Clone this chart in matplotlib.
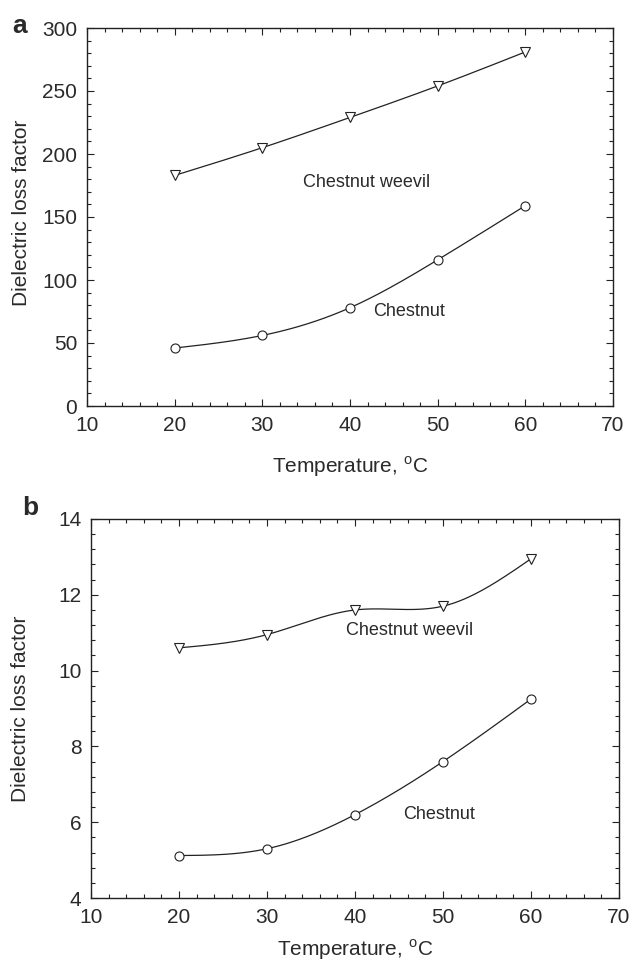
import numpy as np
import matplotlib
matplotlib.use("Agg")
import matplotlib.pyplot as plt
from matplotlib.ticker import MultipleLocator

plt.rcParams['font.family'] = ['Liberation Sans', 'DejaVu Sans']

temperature = [20, 30, 40, 50, 60]
a_weevil = [183, 205, 229, 254, 281]
a_chestnut = [46, 56, 78, 116, 159]
b_weevil = [10.6, 10.95, 11.6, 11.7, 12.95]
b_chestnut = [5.12, 5.3, 6.2, 7.6, 9.25]


def natural_spline(x, y, n=200):
    x = np.asarray(x, float); y = np.asarray(y, float)
    k = len(x); h = np.diff(x)
    A = np.zeros((k, k)); r = np.zeros(k)
    A[0, 0] = A[-1, -1] = 1
    for i in range(1, k - 1):
        A[i, i - 1] = h[i - 1]; A[i, i] = 2 * (h[i - 1] + h[i]); A[i, i + 1] = h[i]
        r[i] = 3 * ((y[i + 1] - y[i]) / h[i] - (y[i] - y[i - 1]) / h[i - 1])
    c = np.linalg.solve(A, r)
    b = (y[1:] - y[:-1]) / h - h * (2 * c[:-1] + c[1:]) / 3
    d = (c[1:] - c[:-1]) / (3 * h)
    xs = np.linspace(x[0], x[-1], n)
    idx = np.clip(np.searchsorted(x, xs, side='right') - 1, 0, k - 2)
    dx = xs - x[idx]
    ys = y[idx] + b[idx] * dx + c[idx] * dx ** 2 + d[idx] * dx ** 3
    return xs, ys


fig = plt.figure(figsize=(6.31, 9.69), dpi=100)
W, H = 631, 969
ax_a = fig.add_axes([87 / W, 1 - 406 / H, (613 - 87) / W, (406 - 28) / H])
ax_b = fig.add_axes([91 / W, 1 - 898 / H, (619 - 91) / W, (898 - 519) / H])

col = '#222222'
tcol = '#2a2a2a'
for ax, w, c, ylim, ymaj, ymin, lw_pos, lc_pos, ylc, xlc in [
    (ax_a, a_weevil, a_chestnut, (0, 300), 50, 10, (34.6, 177), (42.6, 75), (-0.125, 0.51), -0.161),
    (ax_b, b_weevil, b_chestnut, (4, 14), 2, 0.4, (39.0, 11.07), (45.5, 6.19), (-0.133, 0.5), -0.137),
]:
    for series, mk in [(w, 'v'), (c, 'o')]:
        xs, ys = natural_spline(temperature, series)
        ax.plot(xs, ys, color=col, lw=0.9)
        ax.plot(temperature, series, linestyle='none', marker=mk, ms=6.5,
                mfc='white', mec=col, mew=0.8)
    ax.set_xlim(10, 70)
    ax.set_ylim(*ylim)
    ax.xaxis.set_major_locator(MultipleLocator(10))
    ax.xaxis.set_minor_locator(MultipleLocator(2))
    ax.yaxis.set_major_locator(MultipleLocator(ymaj))
    ax.yaxis.set_minor_locator(MultipleLocator(ymin))
    ax.tick_params(which='both', direction='in', top=True, right=True,
                   labelsize=15, colors=col, labelcolor=tcol, width=0.8)
    ax.tick_params(which='major', length=5)
    ax.tick_params(which='minor', length=3)
    ax.tick_params(axis='x', which='major', pad=7)
    ax.tick_params(axis='y', which='major', pad=7)
    for s in ax.spines.values():
        s.set_color(col); s.set_linewidth(1.0)
    ax.set_xlabel('Temperature, $^{\\mathregular{o}}$C', fontsize=15, color=tcol, va='center')
    ax.set_ylabel('Dielectric loss factor', fontsize=15, color=tcol, va='center')
    ax.yaxis.set_label_coords(*ylc)
    ax.xaxis.set_label_coords(0.5, xlc)
    ax.text(*lw_pos, 'Chestnut weevil', fontsize=13, color=tcol, va='center')
    ax.text(*lc_pos, 'Chestnut', fontsize=13, color=tcol, va='center')

fig.text(12 / W, 1 - 26 / H, 'a', fontsize=19, fontweight='bold', color=tcol, va='center')
fig.text(22 / W, 1 - 508 / H, 'b', fontsize=19, fontweight='bold', color=tcol, va='center')

fig.savefig('out.png', dpi=100)
